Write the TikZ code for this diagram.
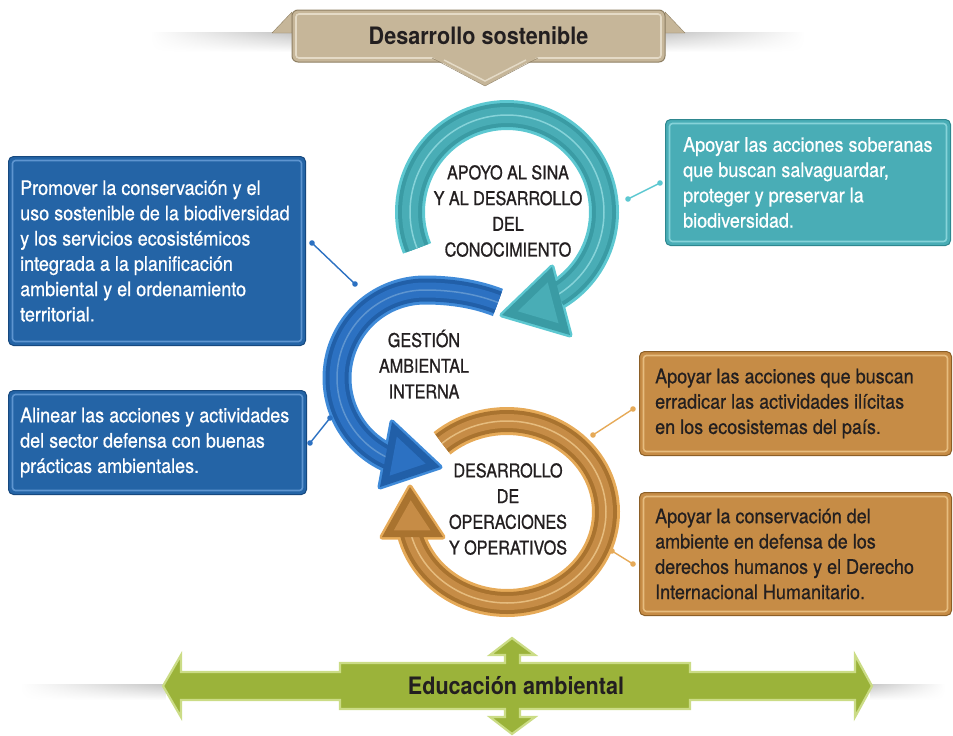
\documentclass[tikz,border=0pt]{standalone}
\usepackage{fontspec}
\setmainfont{TeX Gyre Heros}[FakeStretch=0.9, UprightFeatures={FakeBold=0.6}]
\newfontfamily\ringfamily{TeX Gyre Heros}[FakeStretch=0.85, UprightFeatures={FakeBold=1}]
\usetikzlibrary{positioning,calc,fadings}

\definecolor{bluemain}{HTML}{2464A6}
\definecolor{bluedark}{HTML}{17497F}
\definecolor{bluelight}{HTML}{5E95D0}
\definecolor{bluering}{HTML}{2C71C2}
\definecolor{bluerim}{HTML}{3F8AD8}
\definecolor{blueshade}{HTML}{215FA8}
\definecolor{tealmain}{HTML}{49ADB6}
\definecolor{tealdark}{HTML}{2E878F}
\definecolor{teallight}{HTML}{86D3D9}
\definecolor{tealrim}{HTML}{5DC8D1}
\definecolor{tealshade}{HTML}{3A9BA4}
\definecolor{orangemain}{HTML}{C68C46}
\definecolor{orangedark}{HTML}{8C5F27}
\definecolor{orangelight}{HTML}{E6BC7E}
\definecolor{orangerim}{HTML}{E6AA58}
\definecolor{orangeshade}{HTML}{A9732F}
\definecolor{greenmain}{HTML}{9BB33A}
\definecolor{greenlight}{HTML}{CBDC86}
\definecolor{sandmain}{HTML}{C6B699}
\definecolor{sanddark}{HTML}{8F8064}
\definecolor{sandlight}{HTML}{E4DAC6}
\definecolor{inkgray}{HTML}{231F20}

\tikzfading[name=fade out west, left color=transparent!100, right color=transparent!0]
\tikzfading[name=fade out east, left color=transparent!0, right color=transparent!100]

\newcommand{\boxfont}{\fontsize{20}{25.3}\selectfont}
\newcommand{\ringfont}{\ringfamily\fontsize{19}{25.7}\selectfont}
\newcommand{\headfont}{\fontsize{24}{28}\selectfont\bfseries}

\begin{document}
\begin{tikzpicture}[x=1pt, y=-1pt,
  bevel/.style={path picture={\draw[#1, line width=1.6pt, rounded corners=3pt]
      ([shift={(4pt,-4pt)}]path picture bounding box.north west) rectangle
      ([shift={(-4pt,4pt)}]path picture bounding box.south east);}},
  infobox/.style={rounded corners=5pt, line width=1pt, anchor=north west, inner sep=0pt},
  boxtext/.style={align=left, font=\boxfont, inner sep=0pt},
  ringtext/.style={align=center, font=\ringfont, text=inkgray},
  link/.style={line width=1.4pt},
  ledge/.style={top color=black!22, bottom color=white}
]
\useasboundingbox (0,0) rectangle (953,736);

% soft ledge shadows under the two banners
\shade[ledge, path fading=fade out west] (150,33) rectangle (292,52);
\shade[ledge, path fading=fade out east] (665,33) rectangle (805,52);
\shade[ledge, path fading=fade out west] (20,684) rectangle (166,700);
\shade[ledge, path fading=fade out east] (870,684) rectangle (945,700);

% top banner
\draw[sanddark, fill=sandmain, line join=round] (292,12) -- (272,33) -- (292,33) -- cycle;
\draw[sanddark, fill=sandmain, line join=round] (665,12) -- (685,33) -- (665,33) -- cycle;
\node[bevel=sandlight, rounded corners=6pt, draw=sanddark, fill=sandmain, line width=1pt,
  minimum width=373pt, minimum height=52pt, font=\headfont, text=inkgray]
  (sostenible) at (478.5,36) {Desarrollo sostenible};
\fill[sandmain] (432,57) -- (538,57) -- (485,86) -- cycle;
\draw[sanddark] (432,58) -- (485,86) -- (538,58);
\draw[sandlight, line width=1.5pt] (444,60) -- (485,81) -- (526,60);

% boxes on the left
\node[infobox, bevel=bluelight, draw=bluedark, fill=bluemain,
  minimum width=297pt, minimum height=189pt] (promover) at (8,156) {};
\node[boxtext, text=white, right=12pt of promover.west] (promover-txt)
  {Promover la conservación y el\\ uso sostenible de la biodiversidad\\
   y los servicios ecosistémicos\\ integrada a la planificación\\
   ambiental y el ordenamiento\\ territorial.};

\node[infobox, bevel=bluelight, draw=bluedark, fill=bluemain,
  minimum width=298pt, minimum height=104pt] (alinear) at (8,390) {};
\node[boxtext, text=white, right=12pt of alinear.west] (alinear-txt)
  {Alinear las acciones y actividades\\ del sector defensa con buenas\\
   prácticas ambientales.};

% boxes on the right
\node[infobox, bevel=teallight, draw=tealdark, fill=tealmain,
  minimum width=285pt, minimum height=126pt] (soberanas) at (665,119) {};
\node[boxtext, text=white, right=18pt of soberanas.west] (soberanas-txt)
  {Apoyar las acciones soberanas\\ que buscan salvaguardar,\\
   proteger y preservar la\\ biodiversidad.};

\node[infobox, bevel=orangelight, draw=orangedark, fill=orangemain,
  minimum width=312pt, minimum height=104pt] (ilicitas) at (639,351) {};
\node[boxtext, text=inkgray, right=16pt of ilicitas.west] (ilicitas-txt)
  {Apoyar las acciones que buscan\\ erradicar las actividades ilícitas\\
   en los ecosistemas del país.};

\node[infobox, bevel=orangelight, draw=orangedark, fill=orangemain,
  minimum width=312pt, minimum height=123pt] (humanitario) at (639,492) {};
\node[boxtext, text=inkgray, right=16pt of humanitario.west] (humanitario-txt)
  {Apoyar la conservación del\\ ambiente en defensa de los\\
   derechos humanos y el Derecho\\ Internacional Humanitario.};

% blue ring
\coordinate (bluetip) at (440,467);
\coordinate (bluein) at (392,422);
\coordinate (blueout) at (380,487);
\coordinate (bluec) at (barycentric cs:bluetip=1,bluein=1,blueout=1);
\draw[bluerim, fill=bluerim, line width=5pt, line join=round] (bluetip) -- (bluein) -- (blueout) -- cycle;
\foreach \w/\c in {29/bluerim, 23/blueshade, 15/bluering, 1.5/bluelight}
  \draw[line width=\w pt, \c] plot[domain=-246:-46, samples=90]
    ({425+(88+17*(max(0,\x+90)/44)^2)*cos(\x)}, {378+(88+17*(max(0,\x+90)/44)^2)*sin(\x)});
\fill[blueshade] (bluetip) -- (bluein) -- (blueout) -- cycle;
\fill[bluering] ($(bluec)!0.6!(bluetip)$) -- ($(bluec)!0.6!(bluein)$) -- ($(bluec)!0.6!(blueout)$) -- cycle;

% orange ring
\coordinate (orangetip) at (410,487);
\coordinate (orangein) at (443,537);
\coordinate (orangeout) at (382,537);
\coordinate (orangec) at (barycentric cs:orangetip=1,orangein=1,orangeout=1);
\draw[orangerim, fill=orangerim, line width=5pt, line join=round] (orangetip) -- (orangein) -- (orangeout) -- cycle;
\foreach \w/\c in {28/orangerim, 22/orangeshade, 14/orangemain, 1.5/orangelight}
  \draw[line width=\w pt, \c] plot[domain=229:527, samples=90]
    ({507+99*cos(\x)}, {512+91*sin(\x)});
\fill[orangeshade] (orangetip) -- (orangein) -- (orangeout) -- cycle;
\fill[orangemain] ($(orangec)!0.6!(orangetip)$) -- ($(orangec)!0.6!(orangein)$) -- ($(orangec)!0.6!(orangeout)$) -- cycle;

% teal ring
\coordinate (tealtip) at (502,315);
\coordinate (tealin) at (552,267);
\coordinate (tealout) at (570,335);
\coordinate (tealc) at (barycentric cs:tealtip=1,tealin=1,tealout=1);
\draw[tealrim, fill=tealrim, line width=5pt, line join=round] (tealtip) -- (tealin) -- (tealout) -- cycle;
\foreach \w/\c in {30/tealrim, 24/tealshade, 16/tealmain, 1.5/teallight}
  \draw[line width=\w pt, \c] plot[domain=158:419, samples=90]
    ({507+97*cos(\x)}, {212+97*sin(\x)});
\fill[tealshade] (tealtip) -- (tealin) -- (tealout) -- cycle;
\fill[tealmain] ($(tealc)!0.6!(tealtip)$) -- ($(tealc)!0.6!(tealin)$) -- ($(tealc)!0.6!(tealout)$) -- cycle;

% ring labels
\node[ringtext] (apoyo) at (508,211) {APOYO AL SINA\\ Y AL DESARROLLO\\ DEL\\ CONOCIMIENTO};
\node[ringtext] (gestion) at (424,364) {GESTIÓN\\ AMBIENTAL\\ INTERNA};
\node[ringtext] (operaciones) at (508,509) {DESARROLLO\\ DE\\ OPERACIONES\\ Y OPERATIVOS};

% connectors with dots
\coordinate (promover-dot) at (312,243);
\coordinate (gestion-dot-a) at (355,284);
\coordinate (alinear-dot) at (310,443);
\coordinate (gestion-dot-b) at (330,418);
\coordinate (soberanas-dot) at (660,183);
\coordinate (apoyo-dot) at (628,199);
\coordinate (ilicitas-dot) at (633,409);
\coordinate (operaciones-dot-a) at (593,435);
\coordinate (humanitario-dot) at (633,564);
\coordinate (operaciones-dot-b) at (612,551);
\foreach \a/\b/\c in {promover-dot/gestion-dot-a/bluering, alinear-dot/gestion-dot-b/bluering,
    soberanas-dot/apoyo-dot/tealrim, ilicitas-dot/operaciones-dot-a/orangerim,
    humanitario-dot/operaciones-dot-b/orangerim} {
  \draw[link, \c] (\a) -- (\b);
  \fill[\c] (\a) circle (2.8pt) (\b) circle (2.8pt);
}

% bottom banner
\draw[greenlight, fill=greenmain, line width=2.2pt, line join=miter]
  (163,686) -- (181,655) -- (181,672) -- (340,672) -- (340,663) -- (505,663)
  -- (505,655) -- (490,655) -- (512,638) -- (535,655) -- (520,655) -- (520,663)
  -- (690,663) -- (690,672) -- (855,672) -- (855,655) -- (872,686) -- (855,717)
  -- (855,700) -- (690,700) -- (690,709) -- (520,709) -- (520,717) -- (535,717)
  -- (512,734) -- (490,717) -- (505,717) -- (505,709) -- (340,709) -- (340,700)
  -- (181,700) -- (181,717) -- cycle;
\node[font=\headfont, text=inkgray] (educacion) at (516,686) {Educación ambiental};
\end{tikzpicture}
\end{document}
